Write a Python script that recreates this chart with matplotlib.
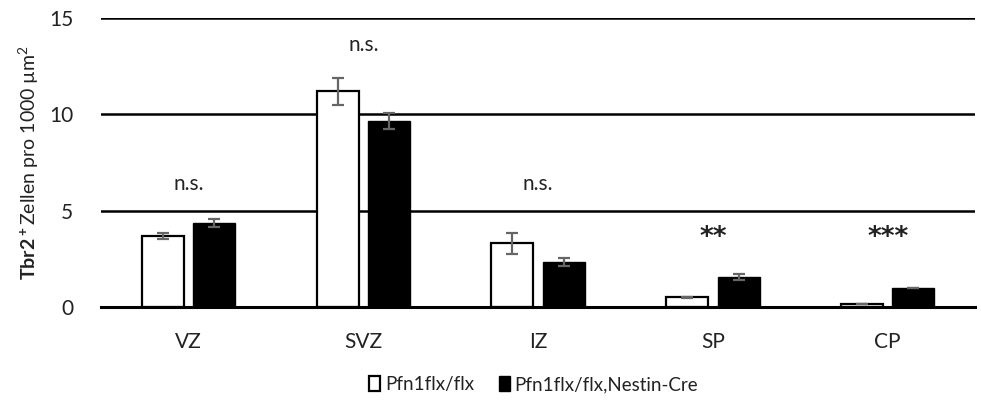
import matplotlib
matplotlib.use('Agg')
import matplotlib.pyplot as plt
import numpy as np

plt.rcParams['font.family'] = ['Lato', 'DejaVu Sans']
plt.rcParams['mathtext.fontset'] = 'custom'
plt.rcParams['mathtext.rm'] = 'Lato'
plt.rcParams['mathtext.bf'] = 'Lato:bold'

regions = ['VZ', 'SVZ', 'IZ', 'SP', 'CP']
ctrl = [3.68, 11.2, 3.32, 0.5, 0.15]
ctrl_err = [0.15, 0.7, 0.55, 0.03, 0.0]
cre = [4.35, 9.65, 2.33, 1.55, 0.98]
cre_err = [0.2, 0.42, 0.2, 0.17, 0.0]
marks = ['n.s.', 'n.s.', 'n.s.', '**', '***']
mark_y = [6.4, 13.6, 6.4, 3.6, 3.6]
names = ['Pfn1flx/flx', 'Pfn1flx/flx,Nestin-Cre']


def main():
    fig = plt.figure(figsize=(9.81, 4.04), dpi=100)
    ax = fig.add_axes([0.103, 0.240, 0.891, 0.715])
    x = np.arange(len(regions))
    w = 0.24
    off = 0.147
    err_kw = dict(ecolor='#666666', elinewidth=1.6, capsize=4, capthick=1.6)

    b1 = ax.bar(x - off, ctrl, w, yerr=ctrl_err, color='white', edgecolor='black',
                linewidth=1.6, error_kw=err_kw, zorder=3, label=names[0])
    b2 = ax.bar(x + off, cre, w, yerr=cre_err, color='black', edgecolor='black',
                linewidth=1.0, error_kw=err_kw, zorder=3, label=names[1])

    for i in range(len(regions)):
        if marks[i].startswith('*'):
            ax.text(x[i], mark_y[i], marks[i], ha='center', va='center',
                    fontsize=19, family='DejaVu Sans', weight='bold', color='#222222')
        else:
            ax.text(x[i], mark_y[i], marks[i], ha='center', va='center', fontsize=15,
                    color='#222222')

    ax.set_xlim(-0.5, len(regions) - 0.5)
    ax.set_ylim(0, 15)
    ax.set_yticks([0, 5, 10, 15])
    ax.yaxis.grid(True, color='black', linewidth=1.8, zorder=0)
    ax.set_axisbelow(True)
    for s in ['top', 'right', 'left']:
        ax.spines[s].set_visible(False)
    ax.spines['bottom'].set_linewidth(2.2)
    ax.spines['bottom'].set_zorder(4)
    ax.tick_params(axis='both', length=0, labelsize=15, colors='#222222')
    ax.tick_params(axis='y', pad=20)
    ax.tick_params(axis='x', pad=18)
    ax.set_xticks(x)
    ax.set_xticklabels(regions)
    ax.set_ylabel(r'$\mathbf{Tbr2^+}$Zellen pro 1000 µm$^2$', fontsize=14,
                  color='#222222', labelpad=6)

    fig.legend(handles=[b1, b2], labels=names, loc='lower center',
               bbox_to_anchor=(0.544, -0.015), ncol=2, frameon=False, fontsize=13.5,
               handlelength=0.6, handleheight=0.8, handletextpad=0.25,
               columnspacing=1.3, labelcolor='#222222')

    fig.savefig('out.png', dpi=100)


if __name__ == "__main__":
    main()
